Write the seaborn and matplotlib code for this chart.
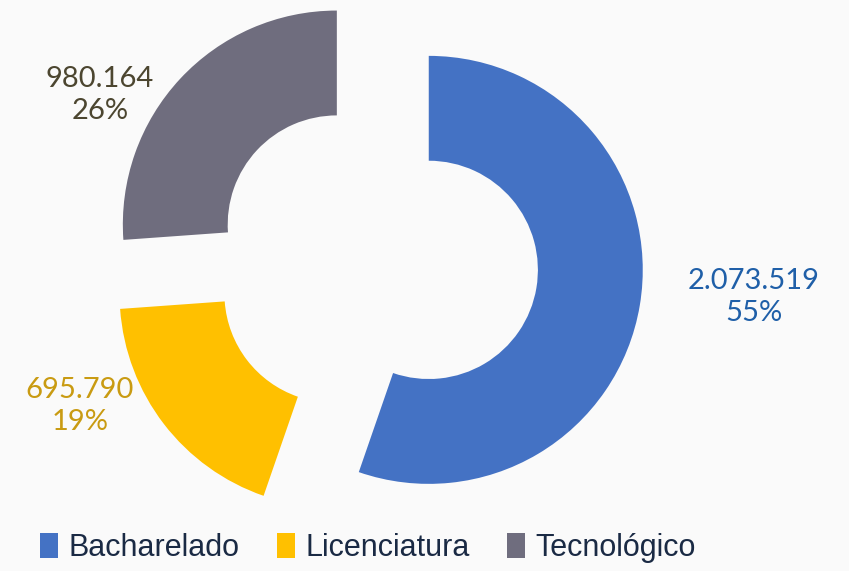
import seaborn as sns
import matplotlib.pyplot as plt

# Data
categories = ["Bacharelado", "Licenciatura", "Tecnológico"]
enrollments = [2073519, 695790, 980164]

# Style
slice_colors = ["#4472C4", "#FFC000", "#6F6D7E"]
label_colors = ["#1F5FA8", "#C99B12", "#4C4630"]
# label positions as axes fractions (x, y)
label_pos = [(754 / 849, 1 - 297 / 571), (80 / 849, 1 - 406 / 571), (100 / 849, 1 - 95 / 571)]

sns.set_theme(style="white")
plt.rcParams["font.family"] = ["Lato", "DejaVu Sans"]

fig = plt.figure(figsize=(8.49, 5.71), dpi=100)
fig.patch.set_facecolor("#fafafa")
ax = fig.add_axes([0, 0, 1, 1])
ax.set_facecolor("#fafafa")

wedges, _ = ax.pie(enrollments, colors=slice_colors, startangle=90, counterclock=False,
                   explode=[0.25] * len(enrollments), radius=1.0,
                   wedgeprops=dict(width=0.49, linewidth=0))

# pixel scale: radius 1 = 214 px, pie centre at (376, 261) px
scale = 214.0
ax.set_xlim(-376 / scale, (849 - 376) / scale)
ax.set_ylim(-(571 - 261) / scale, 261 / scale)
ax.set_aspect("auto")
ax.axis("off")

total = sum(enrollments)
for val, col, pos in zip(enrollments, label_colors, label_pos):
    txt = f"{val:,}".replace(",", ".") + f"\n{round(100 * val / total)}%"
    ax.text(pos[0], pos[1], txt, transform=ax.transAxes, ha="center", va="center",
            color=col, fontsize=21, linespacing=1.3)

leg = fig.legend(wedges, categories, loc="center", bbox_to_anchor=(368 / 849, 1 - 548 / 571),
                 ncol=3, frameon=False, handlelength=0.6, handleheight=0.9,
                 handletextpad=0.35, columnspacing=1.2,
                 prop={"family": ["Liberation Sans Narrow", "Liberation Sans"], "size": 22})
for t in leg.get_texts():
    t.set_color("#1A2A44")

plt.savefig("out.png", dpi=100, facecolor=fig.get_facecolor())
